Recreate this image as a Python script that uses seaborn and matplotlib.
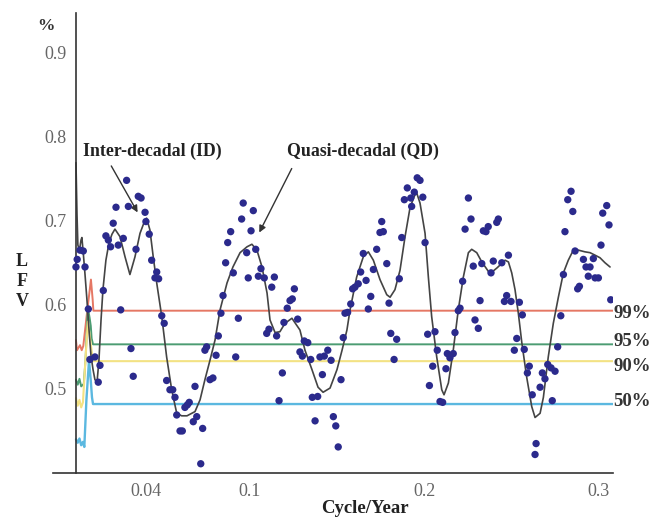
import numpy as np
import pandas as pd
import seaborn as sns
import matplotlib.pyplot as plt
from matplotlib.ticker import FixedLocator, MultipleLocator

# scatter points (frequency in cycle/year, LFV)
dot_x = [0.0, 0.0007, 0.0023, 0.0042, 0.0052, 0.0071, 0.008, 0.0109, 0.0128, 0.0138,
         0.0157, 0.0172, 0.0186, 0.0199, 0.0214, 0.023, 0.0243, 0.0257, 0.0272, 0.0291,
         0.0301, 0.0316, 0.0329, 0.0345, 0.0358, 0.0374, 0.0397, 0.0402, 0.0421, 0.0435,
         0.0454, 0.0464, 0.0475, 0.0493, 0.0507, 0.0521, 0.054, 0.0556, 0.0569, 0.0579,
         0.0598, 0.0611, 0.0626, 0.064, 0.0651, 0.0674, 0.0684, 0.0694, 0.0717, 0.0728,
         0.0741, 0.0751, 0.077, 0.0787, 0.0805, 0.0818, 0.0833, 0.0845, 0.086, 0.0872,
         0.0889, 0.0904, 0.0918, 0.0933, 0.0952, 0.0961, 0.0981, 0.099, 0.1006, 0.1019,
         0.1033, 0.1048, 0.1063, 0.1082, 0.1096, 0.1109, 0.1125, 0.114, 0.1153, 0.1167,
         0.1186, 0.1195, 0.1214, 0.123, 0.1243, 0.1255, 0.1274, 0.1287, 0.1301, 0.1312,
         0.1332, 0.1349, 0.1358, 0.1374, 0.1389, 0.1402, 0.1416, 0.1427, 0.1447, 0.1466,
         0.1479, 0.1493, 0.1507, 0.1523, 0.1536, 0.1546, 0.1561, 0.1579, 0.159, 0.1603,
         0.1622, 0.1636, 0.1651, 0.1667, 0.168, 0.1694, 0.1709, 0.1728, 0.1747, 0.1757,
         0.1766, 0.1786, 0.1799, 0.1809, 0.1828, 0.1843, 0.1858, 0.1872, 0.1887, 0.1904,
         0.1924, 0.1929, 0.1944, 0.1961, 0.1977, 0.1993, 0.2006, 0.2021, 0.2031, 0.205,
         0.2063, 0.2076, 0.2092, 0.2107, 0.2126, 0.2134, 0.2149, 0.2168, 0.2178, 0.2197,
         0.2207, 0.2222, 0.2236, 0.2255, 0.227, 0.2283, 0.2293, 0.2312, 0.2322, 0.2332,
         0.2341, 0.2356, 0.2369, 0.2385, 0.2398, 0.2418, 0.2427, 0.2447, 0.2462, 0.2475,
         0.2485, 0.25, 0.2519, 0.2533, 0.2548, 0.2565, 0.2576, 0.2594, 0.2605, 0.2622,
         0.2638, 0.2644, 0.2667, 0.268, 0.2695, 0.2711, 0.273, 0.2737, 0.2753, 0.2768,
         0.2786, 0.2801, 0.281, 0.2826, 0.2845, 0.2855, 0.2868, 0.2883, 0.2893, 0.2916,
         0.2931, 0.2944, 0.2954, 0.2973, 0.2983, 0.3002, 0.3017, 0.3027, 0.305, 0.3063,
         0.3073]
dot_y = [0.645, 0.654, 0.665, 0.664, 0.645, 0.595, 0.535, 0.538, 0.508, 0.528,
         0.617, 0.682, 0.677, 0.669, 0.697, 0.716, 0.671, 0.594, 0.679, 0.748,
         0.717, 0.548, 0.515, 0.666, 0.729, 0.727, 0.710, 0.699, 0.684, 0.653,
         0.632, 0.639, 0.631, 0.587, 0.578, 0.510, 0.499, 0.499, 0.490, 0.469,
         0.450, 0.450, 0.478, 0.481, 0.484, 0.461, 0.503, 0.467, 0.411, 0.453,
         0.546, 0.550, 0.511, 0.513, 0.540, 0.563, 0.590, 0.611, 0.650, 0.674,
         0.687, 0.638, 0.538, 0.584, 0.702, 0.721, 0.662, 0.632, 0.688, 0.712,
         0.666, 0.634, 0.643, 0.632, 0.566, 0.571, 0.621, 0.633, 0.563, 0.486,
         0.519, 0.579, 0.596, 0.605, 0.607, 0.619, 0.583, 0.544, 0.539, 0.557,
         0.555, 0.535, 0.490, 0.462, 0.491, 0.538, 0.517, 0.539, 0.546, 0.534,
         0.467, 0.456, 0.431, 0.511, 0.561, 0.590, 0.591, 0.601, 0.619, 0.621,
         0.625, 0.639, 0.661, 0.629, 0.595, 0.610, 0.642, 0.666, 0.686, 0.699,
         0.687, 0.649, 0.602, 0.566, 0.535, 0.559, 0.631, 0.680, 0.725, 0.739,
         0.727, 0.717, 0.734, 0.751, 0.748, 0.728, 0.674, 0.565, 0.504, 0.527,
         0.568, 0.546, 0.485, 0.484, 0.524, 0.542, 0.537, 0.542, 0.567, 0.593,
         0.596, 0.628, 0.690, 0.727, 0.702, 0.646, 0.582, 0.572, 0.605, 0.649,
         0.688, 0.687, 0.693, 0.638, 0.652, 0.698, 0.702, 0.650, 0.604, 0.611,
         0.659, 0.604, 0.546, 0.560, 0.603, 0.588, 0.547, 0.519, 0.527, 0.493,
         0.422, 0.435, 0.502, 0.519, 0.512, 0.529, 0.525, 0.486, 0.521, 0.550,
         0.587, 0.636, 0.687, 0.725, 0.735, 0.711, 0.664, 0.619, 0.622, 0.654,
         0.645, 0.634, 0.645, 0.655, 0.632, 0.632, 0.671, 0.709, 0.718, 0.695,
         0.606]

# smoothed spectrum curve
curve_x = [0.0, 0.0006, 0.0011, 0.002, 0.0029, 0.0034, 0.0043, 0.0052, 0.0063, 0.0075,
           0.0086, 0.0098, 0.0109, 0.0121, 0.0132, 0.0144, 0.0155, 0.0172, 0.019, 0.0207,
           0.0224, 0.0253, 0.0282, 0.031, 0.0339, 0.0368, 0.0397, 0.0406, 0.0425, 0.0444,
           0.0464, 0.0493, 0.0521, 0.055, 0.0579, 0.0607, 0.0638, 0.0684, 0.0713, 0.0741,
           0.077, 0.0799, 0.0828, 0.0868, 0.0902, 0.0943, 0.0983, 0.1011, 0.104, 0.1069,
           0.1098, 0.1115, 0.1144, 0.1172, 0.1201, 0.1241, 0.1287, 0.1316, 0.1356, 0.1391,
           0.142, 0.146, 0.15, 0.1529, 0.1557, 0.1575, 0.1613, 0.1651, 0.168, 0.1709,
           0.1747, 0.1786, 0.1805, 0.1833, 0.1862, 0.1891, 0.192, 0.1948, 0.1958, 0.1977,
           0.2006, 0.2025, 0.2044, 0.2073, 0.2102, 0.2115, 0.214, 0.2168, 0.2197, 0.2226,
           0.2255, 0.2274, 0.2303, 0.2332, 0.2379, 0.242, 0.2466, 0.2485, 0.2504, 0.2523,
           0.2542, 0.2562, 0.259, 0.2619, 0.2638, 0.2667, 0.2686, 0.2714, 0.2743, 0.2772,
           0.2801, 0.2829, 0.2858, 0.2887, 0.2925, 0.2954, 0.2983, 0.3011, 0.304, 0.3069]
curve_y = [0.769, 0.707, 0.671, 0.665, 0.677, 0.680, 0.659, 0.636, 0.606, 0.570,
           0.540, 0.523, 0.511, 0.508, 0.534, 0.582, 0.618, 0.653, 0.674, 0.684,
           0.690, 0.681, 0.657, 0.636, 0.657, 0.685, 0.701, 0.703, 0.689, 0.657,
           0.626, 0.586, 0.538, 0.499, 0.471, 0.468, 0.468, 0.473, 0.487, 0.511,
           0.534, 0.558, 0.594, 0.626, 0.645, 0.662, 0.669, 0.672, 0.665, 0.645,
           0.614, 0.582, 0.567, 0.568, 0.578, 0.584, 0.570, 0.546, 0.523, 0.502,
           0.496, 0.501, 0.523, 0.546, 0.570, 0.594, 0.633, 0.657, 0.663, 0.653,
           0.630, 0.612, 0.609, 0.618, 0.641, 0.681, 0.716, 0.731, 0.733, 0.721,
           0.685, 0.633, 0.586, 0.538, 0.499, 0.493, 0.507, 0.546, 0.594, 0.633,
           0.662, 0.666, 0.662, 0.651, 0.637, 0.644, 0.653, 0.651, 0.638, 0.618,
           0.590, 0.555, 0.514, 0.479, 0.466, 0.471, 0.490, 0.538, 0.578, 0.609,
           0.638, 0.653, 0.665, 0.665, 0.663, 0.662, 0.659, 0.656, 0.650, 0.645]

# confidence levels
red_x = [0.0, 0.0006, 0.0023, 0.0033, 0.0042, 0.0061, 0.0086, 0.0096, 0.01, 0.3086]
red_y = [0.558, 0.546, 0.552, 0.546, 0.551, 0.586, 0.630, 0.606, 0.593, 0.593]
green_x = [0.0, 0.001, 0.002, 0.003, 0.0045, 0.0055, 0.0068, 0.0078, 0.0085, 0.009, 0.0098, 0.3086]
green_y = [0.511, 0.505, 0.512, 0.503, 0.506, 0.535, 0.597, 0.585, 0.575, 0.560, 0.553, 0.553]
yellow_x = [0.0, 0.001, 0.002, 0.003, 0.004, 0.0052, 0.0068, 0.008, 0.009, 0.0098, 0.3086]
yellow_y = [0.489, 0.480, 0.487, 0.478, 0.484, 0.526, 0.580, 0.562, 0.545, 0.533, 0.533]
blue_x = [0.0, 0.001, 0.002, 0.003, 0.004, 0.0048, 0.006, 0.0075, 0.0085, 0.0092, 0.0098, 0.3086]
blue_y = [0.440, 0.436, 0.441, 0.433, 0.437, 0.431, 0.487, 0.534, 0.510, 0.490, 0.482, 0.482]

level_labels = ["99%", "95%", "90%", "50%"]
level_label_y = [0.590, 0.556, 0.527, 0.485]

x_ticks = [0.04, 0.1, 0.2, 0.3]
x_tick_labels = ["0.04", "0.1", "0.2", "0.3"]
y_ticks = [0.5, 0.6, 0.7, 0.8, 0.9]

sns.set_style("white")
plt.rcParams['font.family'] = ['Liberation Serif', 'DejaVu Serif']

fig = plt.figure(figsize=(6.5, 5.18), dpi=100)
ax = fig.add_axes([53 / 650, 45 / 518, 560 / 650, 460 / 518])

line_kw = dict(estimator=None, sort=False, ax=ax, legend=False)
sns.lineplot(x=red_x, y=red_y, color="#e57764", linewidth=1.4, **line_kw)
sns.lineplot(x=green_x, y=green_y, color="#4c9c72", linewidth=1.4, **line_kw)
sns.lineplot(x=yellow_x, y=yellow_y, color="#f3e284", linewidth=1.5, **line_kw)
sns.lineplot(x=blue_x, y=blue_y, color="#5bb8e0", linewidth=1.7, **line_kw)
sns.lineplot(x=curve_x, y=curve_y, color="#444444", linewidth=1.2, **line_kw)

dots = pd.DataFrame({"freq": dot_x, "lfv": dot_y})
sns.scatterplot(data=dots, x="freq", y="lfv", color="#2b2a8c", s=28,
                edgecolor="none", ax=ax, zorder=5)

ax.set_xlim(-0.0132, 0.3086)
ax.set_ylim(0.4, 0.947)

# axes in Mathematica style
for s in ["top", "right"]:
    ax.spines[s].set_visible(False)
ax.spines["left"].set_position(("data", 0))
for s in ["left", "bottom"]:
    ax.spines[s].set_color("#333333")
    ax.spines[s].set_linewidth(1.2)

ax.xaxis.set_major_locator(FixedLocator(x_ticks))
ax.set_xticklabels(x_tick_labels)
ax.xaxis.set_minor_locator(MultipleLocator(0.02))
ax.yaxis.set_major_locator(FixedLocator(y_ticks))
ax.yaxis.set_minor_locator(MultipleLocator(0.02))
ax.tick_params(which="major", direction="in", length=6, width=1, color="#333333",
               labelsize=13, labelcolor="#666666", pad=7)
ax.tick_params(which="minor", direction="in", length=3.5, width=0.8, color="#333333")
ax.set_xlabel("")
ax.set_ylabel("")

for lab, ly in zip(level_labels, level_label_y):
    ax.text(0.3088, ly, lab, ha="left", va="center", fontsize=13.5,
            fontweight="bold", color="#333333", clip_on=False)

arrow = dict(arrowstyle="-|>", color="#333333", lw=1, mutation_scale=10)
ax.annotate("", xy=(0.0362, 0.707), xytext=(0.0195, 0.768), arrowprops=arrow)
ax.annotate("", xy=(0.1046, 0.683), xytext=(0.1247, 0.765), arrowprops=arrow)
ax.text(0.004, 0.782, "Inter-decadal (ID)", fontsize=12.8, fontweight="bold",
        color="#222222", va="center", ha="left")
ax.text(0.1213, 0.782, "Quasi-decadal (QD)", fontsize=12.8, fontweight="bold",
        color="#222222", va="center", ha="left")

fig.text(46 / 650, 1 - 26 / 518, "%", fontsize=12.5, fontweight="bold",
         color="#333333", ha="center", va="center")
for i, ch in enumerate(["L", "F", "V"]):
    fig.text(22 / 650, 1 - (262 + 20 * i) / 518, ch, fontsize=13,
             fontweight="bold", color="#222222", ha="center", va="center")
fig.text(365 / 650, 1 - 513 / 518, "Cycle/Year", fontsize=13.5,
         fontweight="bold", color="#222222", ha="center", va="baseline")

fig.savefig("out.png", dpi=100, facecolor="white")
